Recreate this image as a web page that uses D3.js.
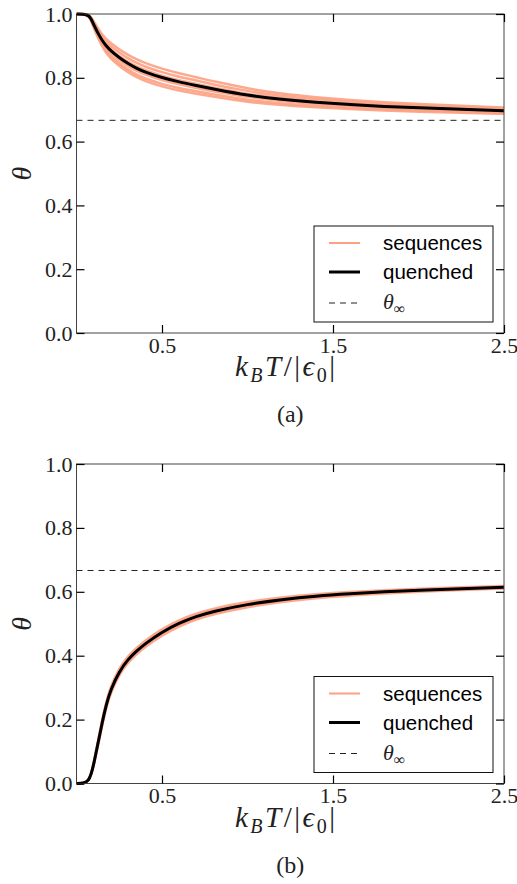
<!DOCTYPE html>
<html>
<head>
<meta charset="utf-8">
<script src="https://cdn.jsdelivr.net/npm/d3@7"></script>
<style>
  html, body { margin: 0; padding: 0; background: #fff; }
  svg { display: block; }
</style>
</head>
<body>
<svg id="chart" width="517" height="884"></svg>
<script>
// ---------------- data ----------------
const temps = [0, 0.04, 0.07, 0.085, 0.1, 0.125, 0.15, 0.175, 0.2, 0.25, 0.3, 0.35, 0.4, 0.5, 0.6, 0.7, 0.8, 1.0, 1.2, 1.4, 1.6, 1.8, 2.0, 2.25, 2.5];

// panel (a)
const quenchedA = [1.000, 1.000, 0.996, 0.985, 0.968, 0.940, 0.917, 0.899, 0.885, 0.863, 0.845, 0.830, 0.818, 0.800, 0.787, 0.776, 0.765, 0.745, 0.732, 0.723, 0.716, 0.710, 0.706, 0.701, 0.697];
const seqA1 = [1.000, 1.000, 0.998, 0.991, 0.978, 0.955, 0.936, 0.921, 0.909, 0.889, 0.872, 0.858, 0.846, 0.828, 0.814, 0.802, 0.789, 0.766, 0.750, 0.739, 0.730, 0.723, 0.718, 0.712, 0.707];
const seqA2 = [1.000, 1.000, 0.997, 0.989, 0.974, 0.949, 0.928, 0.912, 0.899, 0.879, 0.861, 0.847, 0.835, 0.817, 0.803, 0.792, 0.779, 0.758, 0.743, 0.733, 0.724, 0.718, 0.713, 0.708, 0.703];
const seqA3 = [1.000, 1.000, 0.996, 0.986, 0.970, 0.943, 0.921, 0.903, 0.890, 0.868, 0.850, 0.836, 0.824, 0.806, 0.792, 0.781, 0.770, 0.749, 0.736, 0.726, 0.719, 0.713, 0.708, 0.703, 0.699];
const seqA4 = [1.000, 1.000, 0.995, 0.983, 0.965, 0.935, 0.911, 0.892, 0.878, 0.855, 0.837, 0.822, 0.810, 0.792, 0.779, 0.768, 0.758, 0.739, 0.727, 0.718, 0.712, 0.706, 0.702, 0.698, 0.694];
const seqA5 = [1.000, 1.000, 0.995, 0.981, 0.961, 0.929, 0.904, 0.884, 0.868, 0.845, 0.826, 0.810, 0.798, 0.780, 0.768, 0.758, 0.748, 0.730, 0.719, 0.712, 0.706, 0.701, 0.698, 0.693, 0.690];
const seqA6 = [1.000, 1.000, 0.994, 0.979, 0.958, 0.925, 0.898, 0.877, 0.861, 0.837, 0.818, 0.802, 0.790, 0.772, 0.760, 0.750, 0.741, 0.724, 0.714, 0.707, 0.702, 0.697, 0.694, 0.690, 0.687];

// panel (b)
const quenchedB = [0, 0, 0.008, 0.028, 0.058, 0.124, 0.191, 0.249, 0.294, 0.351, 0.388, 0.414, 0.437, 0.474, 0.502, 0.523, 0.539, 0.561, 0.576, 0.587, 0.594, 0.600, 0.605, 0.610, 0.614];
const seqB1 = [0, 0, 0.009, 0.030, 0.062, 0.131, 0.200, 0.259, 0.304, 0.361, 0.398, 0.424, 0.447, 0.484, 0.512, 0.532, 0.548, 0.569, 0.583, 0.593, 0.600, 0.605, 0.610, 0.614, 0.618];
const seqB2 = [0, 0, 0.008, 0.029, 0.060, 0.127, 0.195, 0.253, 0.298, 0.355, 0.392, 0.418, 0.441, 0.478, 0.506, 0.527, 0.543, 0.564, 0.579, 0.589, 0.596, 0.602, 0.607, 0.612, 0.616];
const seqB3 = [0, 0, 0.008, 0.027, 0.056, 0.121, 0.187, 0.245, 0.290, 0.347, 0.384, 0.410, 0.433, 0.470, 0.498, 0.519, 0.535, 0.558, 0.573, 0.585, 0.592, 0.598, 0.603, 0.608, 0.612];
const seqB4 = [0, 0, 0.007, 0.026, 0.054, 0.117, 0.182, 0.239, 0.284, 0.341, 0.378, 0.404, 0.427, 0.464, 0.492, 0.514, 0.530, 0.553, 0.569, 0.581, 0.588, 0.595, 0.600, 0.606, 0.610];

const thetaInf = 0.6667;
const xTicks = [0.5, 1.5, 2.5];
const yTicks = [0.0, 0.2, 0.4, 0.6, 0.8, 1.0];
const legendLabels = ["sequences", "quenched"];
const panelLabels = ["(a)", "(b)"];

// ---------------- drawing ----------------
const svg = d3.select("#chart");
const SEQ_COLOR = "#fca082";
const SERIF = "'Liberation Serif', 'DejaVu Serif', serif";
const SANS = "'Liberation Sans', Arial, sans-serif";

const L = 76.5, R = 504;

const panels = [
  { top: 14, bottom: 333, quenched: quenchedA, seqs: [seqA1, seqA2, seqA3, seqA4, seqA5, seqA6], label: panelLabels[0], id: "a" },
  { top: 464, bottom: 783.5, quenched: quenchedB, seqs: [seqB1, seqB2, seqB3, seqB4], label: panelLabels[1], id: "b" }
];

panels.forEach(p => {
  const x = d3.scaleLinear().domain([0, 2.5]).range([L, R]);
  const y = d3.scaleLinear().domain([0, 1]).range([p.bottom, p.top]);
  const g = svg.append("g");

  g.append("clipPath").attr("id", "clip-" + p.id)
    .append("rect").attr("x", L).attr("y", p.top - 2).attr("width", R - L).attr("height", p.bottom - p.top + 4);

  const line = d3.line().x((d, i) => x(temps[i])).y(d => y(d)).curve(d3.curveBasis);
  const plot = g.append("g").attr("clip-path", "url(#clip-" + p.id + ")");

  p.seqs.forEach(s => {
    plot.append("path").attr("d", line(s)).attr("fill", "none")
      .attr("stroke", SEQ_COLOR).attr("stroke-width", 2.5).attr("stroke-opacity", 0.9);
  });
  plot.append("path").attr("d", line(p.quenched)).attr("fill", "none")
    .attr("stroke", "#000").attr("stroke-width", 3);

  // theta infinity dashed line
  g.append("line").attr("x1", L).attr("x2", R)
    .attr("y1", y(thetaInf)).attr("y2", y(thetaInf))
    .attr("stroke", "#222").attr("stroke-width", 1).attr("stroke-dasharray", "6,5");

  // frame
  g.append("rect").attr("x", L).attr("y", p.top).attr("width", R - L).attr("height", p.bottom - p.top)
    .attr("fill", "none").attr("stroke", "#444").attr("stroke-width", 1);

  // axes (ticks inward)
  const styleAxis = sel => {
    sel.select(".domain").remove();
    sel.selectAll(".tick line").attr("stroke", "#000").attr("stroke-width", 1.2);
    sel.selectAll("text").attr("font-family", SERIF).attr("font-size", 22).attr("fill", "#222");
  };
  g.append("g").attr("transform", `translate(0,${p.bottom})`)
    .call(d3.axisBottom(x).tickValues(xTicks).tickSizeInner(-8).tickSizeOuter(0).tickPadding(4).tickFormat(d3.format(".1f")))
    .call(styleAxis);
  g.append("g").attr("transform", `translate(0,${p.top})`)
    .call(d3.axisTop(x).tickValues(xTicks).tickSizeInner(-8).tickSizeOuter(0).tickFormat(""))
    .call(styleAxis);
  g.append("g").attr("transform", `translate(${L},0)`)
    .call(d3.axisLeft(y).tickValues(yTicks).tickSizeInner(-8).tickSizeOuter(0).tickPadding(4).tickFormat(d3.format(".1f")))
    .call(styleAxis);
  g.append("g").attr("transform", `translate(${R},0)`)
    .call(d3.axisRight(y).tickValues(yTicks).tickSizeInner(-8).tickSizeOuter(0).tickFormat(""))
    .call(styleAxis);

  // y label
  g.append("text")
    .attr("transform", `translate(31,${(p.top + p.bottom) / 2}) rotate(-90)`)
    .attr("text-anchor", "middle")
    .attr("font-family", SERIF).attr("font-style", "italic").attr("font-size", 28).attr("fill", "#222")
    .text("θ");

  // x label
  const xl = g.append("text")
    .attr("x", (L + R) / 2 - 4).attr("y", p.bottom + 43)
    .attr("text-anchor", "middle")
    .attr("font-family", SERIF).attr("font-size", 29).attr("letter-spacing", 2.5).attr("fill", "#222");
  xl.append("tspan").attr("font-style", "italic").text("k");
  xl.append("tspan").attr("font-style", "italic").attr("font-size", 20).attr("dy", 6).text("B");
  xl.append("tspan").attr("font-style", "italic").attr("dy", -6).text("T");
  xl.append("tspan").text("/|");
  xl.append("tspan").attr("font-style", "italic").text("ϵ");
  xl.append("tspan").attr("font-size", 20).attr("dy", 6).text("0");
  xl.append("tspan").attr("dy", -6).text("|");

  // panel label
  g.append("text").attr("x", (L + R) / 2).attr("y", p.bottom + 89)
    .attr("text-anchor", "middle")
    .attr("font-family", SERIF).attr("font-size", 24).attr("fill", "#222")
    .text(p.label);

  // legend
  const lx = 314, ly = p.bottom - 107, lw = 179, lh = 96;
  const lg = g.append("g");
  lg.append("rect").attr("x", lx).attr("y", ly).attr("width", lw).attr("height", lh)
    .attr("fill", "#fff").attr("stroke", "#111").attr("stroke-width", 1);
  const rows = [17, 46, 77];
  lg.append("line").attr("x1", 329).attr("x2", 360).attr("y1", ly + rows[0]).attr("y2", ly + rows[0])
    .attr("stroke", SEQ_COLOR).attr("stroke-width", 2);
  lg.append("line").attr("x1", 329).attr("x2", 360).attr("y1", ly + rows[1]).attr("y2", ly + rows[1])
    .attr("stroke", "#000").attr("stroke-width", 3);
  lg.append("line").attr("x1", 329).attr("x2", 360).attr("y1", ly + rows[2]).attr("y2", ly + rows[2])
    .attr("stroke", "#222").attr("stroke-width", 1).attr("stroke-dasharray", "6,5");
  legendLabels.forEach((t, i) => {
    lg.append("text").attr("x", 383).attr("y", ly + rows[i] + 7)
      .attr("font-family", SANS).attr("font-size", 20.5).attr("fill", "#000").text(t);
  });
  const tl = lg.append("text").attr("x", 383).attr("y", ly + rows[2] + 6)
    .attr("font-family", SERIF).attr("font-size", 22).attr("fill", "#222");
  tl.append("tspan").attr("font-style", "italic").text("θ");
  tl.append("tspan").attr("font-size", 16).attr("dy", 5).text("∞");
});
</script>
</body>
</html>
